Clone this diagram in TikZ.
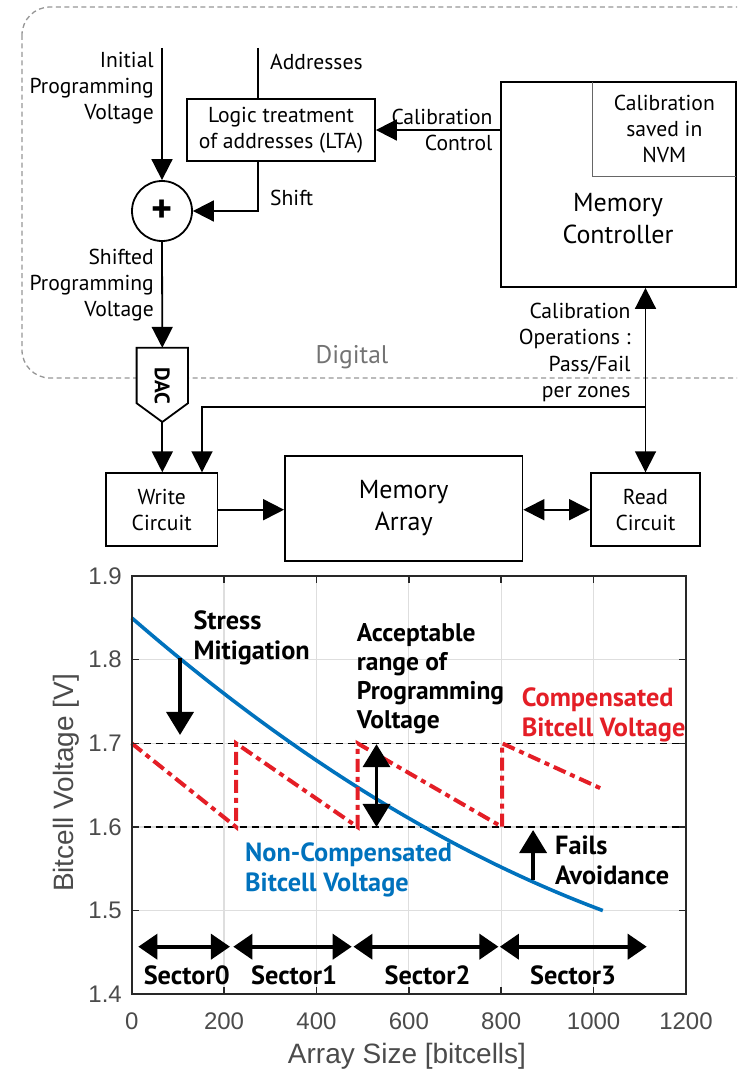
\documentclass[tikz,border=0pt]{standalone}
\usepackage{fontspec}
\setmainfont{PT Sans}
\newfontfamily\plotfont{Liberation Sans}
\usetikzlibrary{arrows.meta,calc}

\definecolor{mblue}{RGB}{0,114,189}
\definecolor{mred}{RGB}{228,30,38}
\definecolor{framegray}{RGB}{150,150,150}
\definecolor{axgray}{RGB}{40,40,40}
\definecolor{ticklab}{RGB}{75,75,75}
\definecolor{gridgray}{RGB}{222,222,222}

\begin{document}
\begin{tikzpicture}[x=1pt,y=-1pt,
  txt/.style={font=\fontsize{21.6}{26.3}\selectfont, inner sep=0pt},
  bigtxt/.style={font=\fontsize{26}{32}\selectfont, inner sep=0pt},
  blk/.style={draw=black, line width=1.8pt, fill=white, inner sep=0pt},
  wire/.style={line width=1.8pt},
  arr/.style={wire, -{Triangle[length=21pt,width=21pt]}},
  dblarr/.style={wire, {Triangle[length=21pt,width=21pt]}-{Triangle[length=21pt,width=21pt]}},
  gridline/.style={gridgray, line width=1.3pt},
  refline/.style={black, line width=1.3pt, dash pattern=on 7pt off 5pt},
  ticklabel/.style={font=\plotfont\fontsize{24}{24}\selectfont, text=ticklab, inner sep=0pt},
  axlabel/.style={font=\plotfont\fontsize{28}{28}\selectfont, text=ticklab, inner sep=0pt},
  note/.style={font=\fontsize{26.3}{30}\selectfont\bfseries, inner sep=0pt, align=left},
  chartarr/.style={line width=3.6pt, -{Triangle[length=23pt,width=27pt]}},
  chartdbl/.style={line width=3.6pt, {Triangle[length=23pt,width=27pt]}-{Triangle[length=23pt,width=27pt]}},
  sectarr/.style={line width=3.8pt, {Triangle[length=19pt,width=25pt]}-{Triangle[length=19pt,width=25pt]}}
]
\useasboundingbox (0,0) rectangle (737,1073);
\clip (0,0) rectangle (737,1073);

% ---------------- block diagram ----------------
% digital domain boundary
\draw[framegray, line width=1.3pt, dash pattern=on 5pt off 3.5pt, rounded corners=28pt]
  (22,7) rectangle (765,378);
\node[font=\fontsize{25.5}{25.5}\selectfont, text=black!55, inner sep=0pt] (digital) at (352,357) {Digital};

\coordinate (vin) at (162,48);
\coordinate (ain) at (258,48);

\node[txt, anchor=east, align=right] (ipv) at (154,88) {Initial\\Programming\\Voltage};
\node[txt, anchor=west] (addr) at (270,62) {Addresses};
\node[blk, txt, align=center, minimum width=188pt, minimum height=62pt] (lta) at (281,130)
  {Logic treatment\\of addresses (LTA)};
\node[blk, circle, minimum size=60pt] (sum) at (162,211) {\fontsize{40}{40}\selectfont\bfseries +};
\node[txt, anchor=west] (shiftlbl) at (270,198) {Shift};
\node[txt, anchor=east, align=right] (spv) at (154,285) {Shifted\\Programming\\Voltage};

% memory controller with its NVM calibration store
\node[blk, minimum width=235.3pt, minimum height=205.3pt] (mc) at (618.35,184.35) {};
\node[txt, align=center, minimum width=143.3pt, minimum height=94.3pt] (nvm) at (664.35,128.85)
  {Calibration\\saved in\\NVM};
\draw[black!60, line width=1.2pt] (nvm.north west) |- (nvm.south east);
\node[bigtxt, align=center] (mctext) at (618,219) {Memory\\Controller};

% DAC
\node[fill=white, inner sep=0pt, minimum width=51pt, minimum height=55pt] (dac) at (162.3,375.5) {};
\coordinate (dactip) at (162.3,422);
\draw[line width=1.8pt, line join=miter] (dac.north west) -- (dac.north east) -- (dac.south east)
  -- (dactip) -- (dac.south west) -- cycle;
\node[font=\fontsize{21}{21}\selectfont\bfseries, inner sep=0pt] (dactext) at (162.3,386) {\rotatebox{-90}{DAC}};

% analog blocks
\node[blk, txt, align=center, minimum width=111.4pt, minimum height=73pt] (write) at (161.7,509.7) {Write\\Circuit};
\node[blk, bigtxt, align=center, minimum width=237.5pt, minimum height=105pt] (marr) at (403.7,508.5) {Memory\\Array};
\node[blk, txt, align=center, minimum width=109pt, minimum height=73pt] (read) at (645.5,509.7) {Read\\Circuit};

\coordinate (jn) at (645.5,407);
\coordinate (wtap) at (202,407);

% connectors
\draw[arr] (vin) -- (sum.north);
\draw[wire] (ain) -- (ain |- lta.north);
\draw[arr] (ain |- lta.south) |- (sum.east);
\draw[arr] (mc.west |- lta.east) -- (lta.east);
\draw[arr] (sum.south) -- (dac.north);
\draw[arr] (dactip) -- (dactip |- write.north);
\draw[dblarr] (read.north) -- (read.north |- mc.south);
\draw[arr] (jn) -- (wtap) -- (wtap |- write.north);
\draw[arr] (write.east) -- (marr.west |- write.east);
\draw[dblarr] (marr.east |- read.west) -- (read.west);

\node[txt, anchor=east, align=right] (calctl) at (492.7,130) {Calibration\\Control};
\node[txt, anchor=east, align=right] (calops) at (630.7,352.5)
  {Calibration\\Operations :\\Pass/Fail\\per zones};

% ---------------- plot ----------------
\begin{scope}[shift={(131.7,994.3)}, x=46.19pt, y=83.66pt]
  % grid
  \foreach \u in {2,4,...,10} \draw[gridline] (\u,0) -- (\u,5);
  \foreach \w in {1,...,4} \draw[gridline] (0,\w) -- (12,\w);
  % acceptable window
  \draw[refline] (0,3) -- (12,3);
  \draw[refline] (0,2) -- (12,2);
  % non-compensated bitcell voltage
  \draw[mblue, line width=3.6pt] plot[domain=0:10.2, samples=60, smooth]
    (\x, {4.5 - 0.4797*\x + 0.01339*\x*\x});
  % compensated bitcell voltage
  \draw[mred, line width=4pt, dash pattern=on 13pt off 5pt on 5pt off 5pt]
    (0,3) -- (2.26,2) -- (2.26,3) -- (4.89,2) -- (4.89,3) -- (8.02,2) -- (8.02,3) -- (10.2,2.45);
  % axes box and ticks
  \draw[axgray, line width=1.8pt] (0,0) rectangle (12,5);
  \foreach \u in {0,2,...,12} {
    \draw[axgray, line width=1.5pt] (\u,0) -- ++(0pt,7pt);
    \draw[axgray, line width=1.5pt] (\u,5) -- ++(0pt,-7pt);
  }
  \foreach \w in {0,...,5} {
    \draw[axgray, line width=1.5pt] (0,\w) -- ++(7pt,0pt);
    \draw[axgray, line width=1.5pt] (12,\w) -- ++(-7pt,0pt);
  }
  % tick labels
  \foreach \w/\t in {0/1.4,1/1.5,2/1.6,3/1.7,4/1.8,5/1.9}
    \node[ticklabel, anchor=east] (ytl\w) at ([xshift=-9.7pt]0,\w) {\t};
  \foreach \u/\t in {0/0,2/200,4/400,6/600,8/800,10/1000,12/1200}
    \node[ticklabel] (xtl\u) at ([yshift=-27.4pt]\u,0) {\t};
  % annotation arrows
  \draw[chartarr] (1.046,4.02) -- (1.046,3.10);
  \draw[chartdbl] (5.30,2.99) -- (5.30,2.0);
  \draw[chartarr] (8.69,1.366) -- (8.69,1.964);
  \draw[sectarr] (0.143,0.569) -- (2.128,0.569);
  \draw[sectarr] (2.20,0.569) -- (4.763,0.569);
  \draw[sectarr] (4.80,0.569) -- (7.94,0.569);
  \draw[sectarr] (7.97,0.569) -- (11.15,0.569);
\end{scope}

\node[axlabel] (xlab) at (407,1056.7) {Array Size [bitcells]};
\node[axlabel, rotate=90] (ylab) at (66,783) {Bitcell Voltage [V]};

\node[note, anchor=west] (stress) at (193.3,638.3) {Stress\\Mitigation};
\node[note, anchor=west, font=\fontsize{25.5}{29}\selectfont\bfseries] (accept) at (356.7,678.5)
  {Acceptable\\range of\\Programming\\Voltage};
\node[note, anchor=west, text=mred] (comp) at (521.7,714.7) {Compensated\\Bitcell Voltage};
\node[note, anchor=west, text=mblue] (noncomp) at (245,870) {Non-Compensated\\Bitcell Voltage};
\node[note, anchor=west] (fails) at (555,860) {Fails\\Avoidance};

\node[note] (s0) at (186.7,975) {Sector0};
\node[note] (s1) at (294,975) {Sector1};
\node[note] (s2) at (427.5,975) {Sector2};
\node[note] (s3) at (573,975) {Sector3};
\end{tikzpicture}
\end{document}
